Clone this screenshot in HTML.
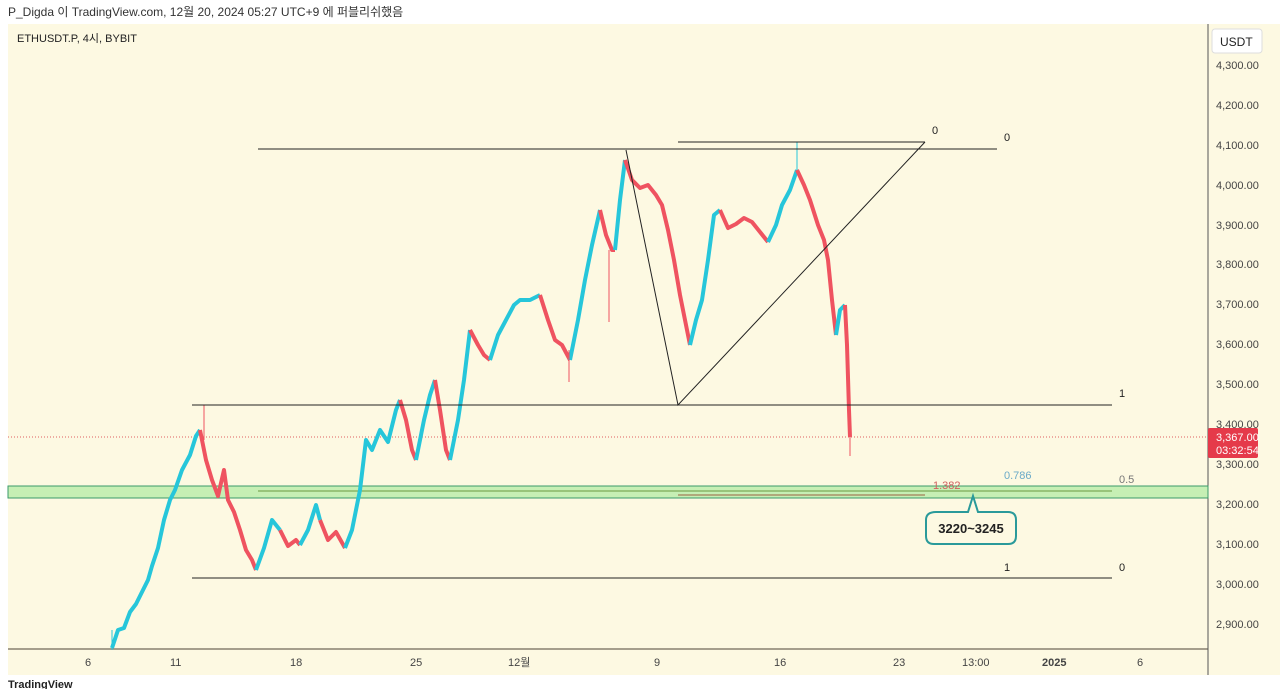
<!DOCTYPE html>
<html><head><meta charset="utf-8"><style>
body{margin:0;width:1280px;height:689px;background:#fff;overflow:hidden;font-family:"Liberation Sans","Noto Sans CJK KR",sans-serif;}
</style></head><body>
<svg width="1280" height="689" xmlns="http://www.w3.org/2000/svg" font-family="Liberation Sans, Noto Sans CJK KR, sans-serif">
<rect x="0" y="0" width="1280" height="689" fill="#fff"/>
<text x="8" y="16" font-size="12" fill="#333">P_Digda 이 TradingView.com, 12월 20, 2024 05:27 UTC+9 에 퍼블리쉬했음</text>
<rect x="8" y="24" width="1272" height="651" fill="#fdf9e2"/>
<line x1="8" y1="649" x2="1208" y2="649" stroke="#888070" stroke-width="1.5"/>
<line x1="1208" y1="24" x2="1208" y2="675" stroke="#555" stroke-width="1"/>
<text x="17" y="42" font-size="11" fill="#222">ETHUSDT.P, 4시, BYBIT</text>
<rect x="1212" y="29" width="50" height="24" rx="3" fill="#fff" stroke="#ddd"/>
<text x="1220" y="46" font-size="12" fill="#222">USDT</text>
<g font-size="11" fill="#444">
<text x="1216" y="69">4,300.00</text><text x="1216" y="109">4,200.00</text><text x="1216" y="149">4,100.00</text><text x="1216" y="189">4,000.00</text><text x="1216" y="229">3,900.00</text><text x="1216" y="268">3,800.00</text><text x="1216" y="308">3,700.00</text><text x="1216" y="348">3,600.00</text><text x="1216" y="388">3,500.00</text><text x="1216" y="428">3,400.00</text><text x="1216" y="468">3,300.00</text><text x="1216" y="508">3,200.00</text><text x="1216" y="548">3,100.00</text><text x="1216" y="588">3,000.00</text><text x="1216" y="628">2,900.00</text>
</g>
<g font-size="11" fill="#444">
<text x="85" y="666">6</text><text x="170" y="666">11</text><text x="290" y="666">18</text><text x="410" y="666">25</text><text x="508" y="666">12월</text><text x="654" y="666">9</text><text x="774" y="666">16</text><text x="893" y="666">23</text><text x="962" y="666">13:00</text><text x="1042" y="666" font-weight="bold">2025</text><text x="1137" y="666">6</text>
</g>
<text x="8" y="688" font-size="11" fill="#222" font-weight="bold">TradingView</text>
<rect x="8" y="486" width="1200" height="12" fill="#c6efb4" stroke="#3a9a6a" stroke-width="1"/>
<line x1="258" y1="491" x2="1112" y2="491" stroke="#6a9a40" stroke-width="1"/>
<line x1="678" y1="495" x2="925" y2="495" stroke="#9a6040" stroke-width="1"/>
<line x1="8" y1="437" x2="1208" y2="437" stroke="#e06060" stroke-width="1" stroke-dasharray="1,2"/>
<g fill="none" stroke-width="4" stroke-linejoin="round">
<polyline stroke="#26c6da" points="112,648 118,630 124,628 130,612 136,604 142,592 148,580 152,566 158,548 164,520 170,500 175,490 182,470 190,455 196,436 200,430"/>
<polyline stroke="#ef5360" points="200,430 206,460 212,480 218,496 224,470 228,500 234,512 240,530 246,550 252,560 256,570"/>
<polyline stroke="#26c6da" points="256,570 264,548 272,520 280,530"/>
<polyline stroke="#ef5360" points="280,530 288,546 296,540 300,545"/>
<polyline stroke="#26c6da" points="300,545 308,530 316,505 320,520"/>
<polyline stroke="#ef5360" points="320,520 328,540 336,532 345,548"/>
<polyline stroke="#26c6da" points="345,548 352,530 360,490 366,440 372,450 380,430 388,442 396,410 400,400"/>
<polyline stroke="#ef5360" points="400,400 406,420 412,450 416,460"/>
<polyline stroke="#26c6da" points="416,460 424,420 430,395 435,380"/>
<polyline stroke="#ef5360" points="435,380 440,410 446,450 450,460"/>
<polyline stroke="#26c6da" points="450,460 458,420 464,380 470,330"/>
<polyline stroke="#ef5360" points="470,330 478,345 484,355 490,360"/>
<polyline stroke="#26c6da" points="490,360 498,335 506,320 514,305 520,300 530,300 540,295"/>
<polyline stroke="#ef5360" points="540,295 548,320 555,340 562,345 570,360"/>
<polyline stroke="#26c6da" points="570,360 578,320 585,280 592,245 600,210"/>
<polyline stroke="#ef5360" points="600,210 606,235 612,250 615,250"/>
<polyline stroke="#26c6da" points="615,250 620,200 625,160"/>
<polyline stroke="#ef5360" points="625,160 632,180 640,188 648,185 656,195 662,205 668,230 674,260 680,295 686,325 690,345"/>
<polyline stroke="#26c6da" points="690,345 696,320 702,300 708,260 714,215 720,210"/>
<polyline stroke="#ef5360" points="720,210 728,228 736,224 744,218 752,222 760,232 768,242"/>
<polyline stroke="#26c6da" points="768,242 776,225 782,205 790,190 797,170"/>
<polyline stroke="#ef5360" points="797,170 804,185 810,200 818,225 824,240 828,260 832,300 836,335"/>
<polyline stroke="#26c6da" points="836,335 840,310 845,305"/>
<polyline stroke="#ef5360" points="845,305 847,345 849,410 850,437"/>
</g>
<g stroke-width="1">
<line x1="204" y1="405" x2="204" y2="440" stroke="#ef5360"/>
<line x1="797" y1="142" x2="797" y2="170" stroke="#26c6da"/>
<line x1="850" y1="430" x2="850" y2="456" stroke="#ef5360"/>
<line x1="609" y1="250" x2="609" y2="322" stroke="#ef5360"/>
<line x1="569" y1="350" x2="569" y2="382" stroke="#ef5360"/>
<line x1="112" y1="630" x2="112" y2="650" stroke="#26c6da"/>
</g>
<g stroke="#222" stroke-width="1" fill="none">
<line x1="258" y1="149" x2="997" y2="149"/>
<line x1="678" y1="142" x2="925" y2="142"/>
<polyline points="626,150 678,405 925,142"/>
<line x1="192" y1="405" x2="1112" y2="405"/>
<line x1="192" y1="578" x2="1112" y2="578"/>
</g>
<g font-size="11">
<text x="932" y="134" fill="#222">0</text><text x="1004" y="141" fill="#222">0</text>
<text x="1119" y="397" fill="#222">1</text>
<text x="1004" y="571" fill="#222">1</text><text x="1119" y="571" fill="#222">0</text>
<text x="1119" y="483" fill="#777">0.5</text>
<text x="1004" y="479" fill="#6aaac8">0.786</text>
<text x="933" y="489" fill="#d06060">1.382</text>
</g>
<path d="M936,512 L968,512 L973,496 L978,512 L1008,512 Q1016,512 1016,520 L1016,536 Q1016,544 1008,544 L934,544 Q926,544 926,536 L926,520 Q926,512 936,512 Z" fill="#fdf9e2" stroke="#2a9a9a" stroke-width="2"/>
<text x="971" y="533" font-size="13" font-weight="bold" fill="#222" text-anchor="middle">3220~3245</text>
<rect x="1208" y="428" width="50" height="30" rx="2" fill="#e53a4a"/>
<text x="1216" y="441" font-size="11" fill="#fff">3,367.00</text>
<text x="1216" y="454" font-size="11" fill="#fff">03:32:54</text>
</svg>
</body></html>
